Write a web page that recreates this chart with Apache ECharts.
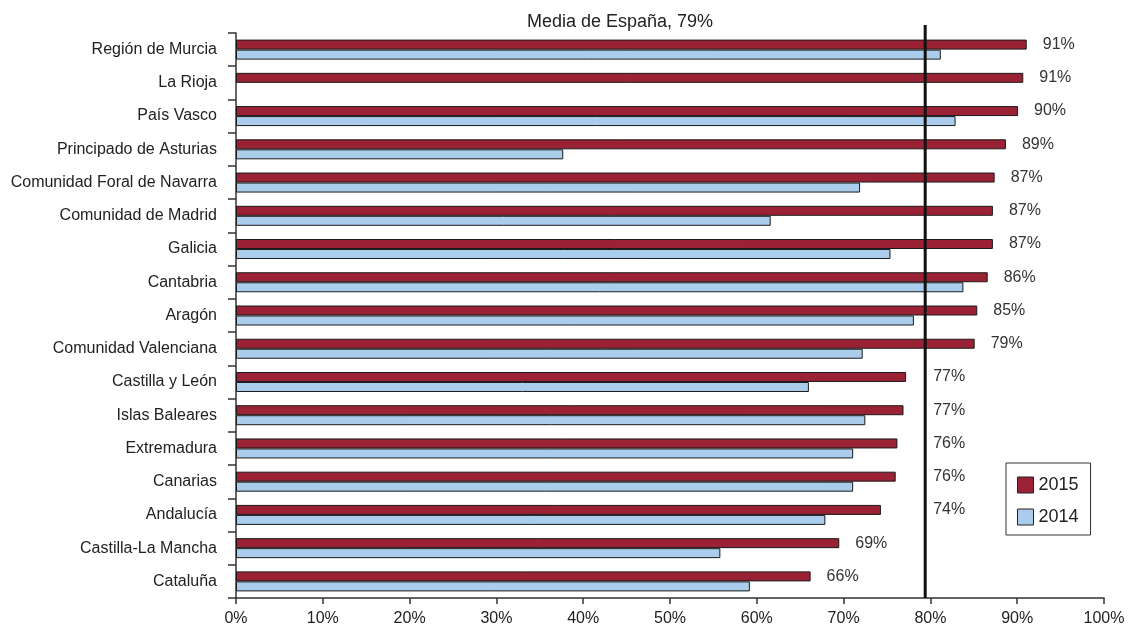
<!DOCTYPE html>
<html>
<head>
<meta charset="utf-8">
<script src="https://cdn.jsdelivr.net/npm/echarts@6/dist/echarts.min.js"></script>
<style>
html,body{margin:0;padding:0;background:#fff;}
#chart{width:1132px;height:632px;}
</style>
</head>
<body>
<div id="chart"></div>
<script>
const categories = [
  'Región de Murcia', 'La Rioja', 'País Vasco', 'Principado de Asturias',
  'Comunidad Foral de Navarra', 'Comunidad de Madrid', 'Galicia', 'Cantabria',
  'Aragón', 'Comunidad Valenciana', 'Castilla y León', 'Islas Baleares',
  'Extremadura', 'Canarias', 'Andalucía', 'Castilla-La Mancha', 'Cataluña'
];
const values2015 = [91.1, 90.7, 90.1, 88.7, 87.4, 87.2, 87.2, 86.6, 85.4, 85.1, 77.2, 76.9, 76.2, 76.0, 74.3, 69.5, 66.2];
const values2014 = [81.2, null, 82.9, 37.7, 71.9, 61.6, 75.4, 83.8, 78.1, 72.2, 66.0, 72.5, 71.1, 71.1, 67.9, 55.8, 59.2];
const labels2015 = ['91%', '91%', '90%', '89%', '87%', '87%', '87%', '86%', '85%', '79%', '77%', '77%', '76%', '76%', '74%', '69%', '66%'];
const seriesNames = ['2015', '2014'];
const meanValue = 79.4;
const meanLabel = 'Media de España, 79%';
const xTickValues = [0, 10, 20, 30, 40, 50, 60, 70, 80, 90, 100];

const gridLeft = 236, gridRight = 28, gridTop = 33, gridBottom = 34;
const pxPerUnit = (1132 - gridLeft - gridRight) / 100;

const chart = echarts.init(document.getElementById('chart'), null, {renderer: 'canvas'});
const fontFamily = '"Liberation Sans", Arial, sans-serif';

const labelGapPx = 16;
const labelWidthPx = 34;
const data2015 = values2015.map((v, i) => {
  let distance = labelGapPx;
  const endPx = v * pxPerUnit;
  const meanPx = meanValue * pxPerUnit;
  if (endPx < meanPx && endPx + labelGapPx + labelWidthPx > meanPx) {
    distance = meanPx - endPx + 8;
  }
  return {
    value: v,
    label: {show: true, position: 'right', distance: distance, formatter: labels2015[i]}
  };
});

chart.setOption({
  animation: false,
  backgroundColor: '#ffffff',
  title: {
    text: meanLabel,
    left: 522,
    top: 8,
    textStyle: {fontFamily, fontSize: 18, fontWeight: 'normal', color: '#222'}
  },
  legend: {
    data: seriesNames,
    orient: 'vertical',
    left: 1006,
    top: 463,
    padding: [13, 12, 9, 11],
    borderColor: '#333',
    borderWidth: 1,
    itemWidth: 16,
    itemHeight: 16,
    itemGap: 14,
    icon: 'rect',
    itemStyle: {borderColor: '#222', borderWidth: 1},
    textStyle: {fontFamily, fontSize: 18, color: '#222'}
  },
  grid: {left: gridLeft, right: gridRight, top: gridTop, bottom: gridBottom, containLabel: false},
  xAxis: {
    type: 'value',
    min: 0,
    max: 100,
    interval: 10,
    axisLine: {show: true, lineStyle: {color: '#333', width: 1.5}},
    axisTick: {show: true, length: 6, lineStyle: {color: '#333', width: 1.5}},
    splitLine: {show: false},
    axisLabel: {
      fontFamily, fontSize: 16, color: '#222', margin: 13,
      formatter: v => xTickValues.indexOf(v) >= 0 ? v + '%' : ''
    }
  },
  yAxis: {
    type: 'category',
    data: categories,
    inverse: true,
    axisLine: {show: true, lineStyle: {color: '#333', width: 1.5}},
    axisTick: {show: true, length: 8, lineStyle: {color: '#333', width: 1.5}},
    axisLabel: {fontFamily, fontSize: 16, color: '#222', margin: 19}
  },
  series: [
    {
      name: seriesNames[0],
      type: 'bar',
      data: data2015,
      barWidth: 10,
      barGap: '0%',
      itemStyle: {color: '#9b2235', borderColor: '#1a1a1a', borderWidth: 1},
      label: {fontFamily, fontSize: 16, color: '#333'},
      z: 2
    },
    {
      name: seriesNames[1],
      type: 'bar',
      data: values2014,
      barWidth: 10,
      barGap: '0%',
      itemStyle: {color: '#abcdec', borderColor: '#1a1a1a', borderWidth: 1},
      z: 2
    }
  ]
});

const meanX = chart.convertToPixel({xAxisIndex: 0}, meanValue);
chart.setOption({
  graphic: [{
    type: 'line',
    z: 100,
    shape: {x1: meanX, y1: 25, x2: meanX, y2: 632 - gridBottom},
    style: {stroke: '#111', lineWidth: 3}
  }]
});
</script>
</body>
</html>
